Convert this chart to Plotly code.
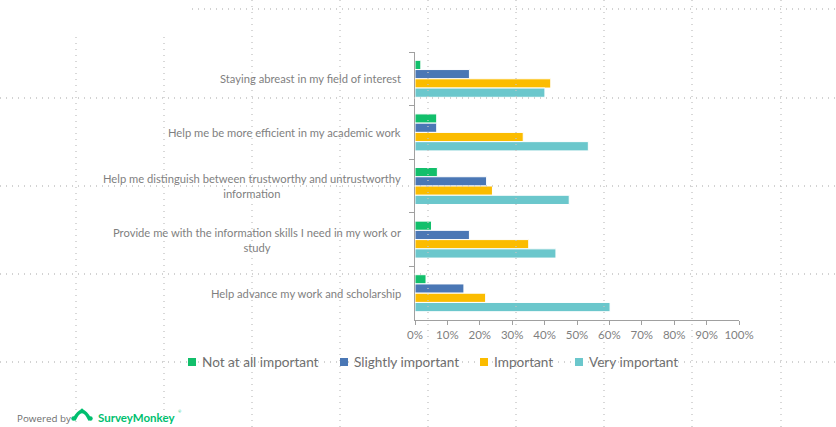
import plotly.graph_objects as go

categories = [
    "Staying abreast in my field of interest",
    "Help me be more efficient in my academic work",
    "Help me distinguish between trustworthy and untrustworthy<br>information",
    "Provide me with the information skills I need in my work or<br>study",
    "Help advance my work and scholarship",
]
series_names = ["Not at all important", "Slightly important", "Important", "Very important"]
not_at_all = [1.8, 6.7, 6.9, 5.1, 3.4]
slightly = [16.8, 6.7, 22.1, 16.8, 15.1]
important = [41.9, 33.4, 23.9, 35.1, 21.8]
very = [40.1, 53.5, 47.6, 43.5, 60.2]
x_ticks = list(range(0, 101, 10))

colors = ["#12bf6b", "#4a77b5", "#fbbc00", "#6bc7cc"]
values = [not_at_all, slightly, important, very]

W, H = 836, 427
ML, MR, MT, MB = 415, 97, 52, 107
PW, PH = W - ML - MR, H - MT - MB


def px2x(px):
    return (px - ML) / PW


def px2y(py):
    return (H - MB - py) / PH


FONT = "Lato"
GRAY = "#7f7f7f"

fig = go.Figure()
for name, vals, col in zip(series_names, values, colors):
    fig.add_trace(go.Bar(
        y=categories, x=vals, name=name, orientation="h",
        marker=dict(color=col, line=dict(color="white", width=1)),
        showlegend=False,
    ))

shapes = []
dot = dict(color="#c4c4c4", width=1.3, dash="1px,5px")
# background dotted grid (decorative)
for xv, y0 in [(76, 37), (164, 37), (252, 0), (340, 0), (428, 0), (516, 0), (604, 0), (692, 0), (781, 0)]:
    shapes.append(dict(type="line", xref="paper", yref="paper", x0=px2x(xv), x1=px2x(xv),
                       y0=px2y(y0), y1=px2y(H), line=dot, layer="above"))
for yv, x0 in [(9, 192), (98, 0), (186, 0), (274, 0), (362, 0)]:
    shapes.append(dict(type="line", xref="paper", yref="paper", x0=px2x(x0), x1=px2x(W),
                       y0=px2y(yv), y1=px2y(yv), line=dot, layer="above"))

annotations = []
for c in categories:
    annotations.append(dict(x=px2x(403), y=c, xref="paper", yref="y", text=c, showarrow=False,
                            xanchor="right", yanchor="middle", align="center",
                            font=dict(family=FONT, size=11.2, color=GRAY)))

# custom legend
leg_sq = [188, 340, 480, 575]
leg_tx = [200, 352, 492, 587]
for name, col, sx, tx in zip(series_names, colors, leg_sq, leg_tx):
    shapes.append(dict(type="rect", xref="paper", yref="paper", x0=px2x(sx), x1=px2x(sx + 8),
                       y0=px2y(366), y1=px2y(358), fillcolor=col, line=dict(width=0)))
    annotations.append(dict(x=px2x(tx), y=px2y(362), xref="paper", yref="paper", text=name,
                            showarrow=False, xanchor="left", yanchor="middle",
                            font=dict(family=FONT, size=13.6, color="#6f6f6f")))

# Powered by SurveyMonkey
annotations.append(dict(x=px2x(15), y=px2y(418), xref="paper", yref="paper", text="Powered by",
                        showarrow=False, xanchor="left", yanchor="middle",
                        font=dict(family="Open Sans", size=9.8, color="#6d6d6d")))
annotations.append(dict(x=px2x(96), y=px2y(417), xref="paper", yref="paper", text="<b>SurveyMonkey</b>",
                        showarrow=False, xanchor="left", yanchor="middle",
                        font=dict(family="Lato", size=11.5, color="#00bf6f")))
annotations.append(dict(x=px2x(176), y=px2y(412), xref="paper", yref="paper", text="®",
                        showarrow=False, xanchor="left", yanchor="middle",
                        font=dict(family="Lato", size=4, color="#00bf6f")))


def P(px, py):
    return f"{px2x(px):.5f},{px2y(py):.5f}"


logo_path = f"M {P(74, 420)} Q {P(82, 403)} {P(90, 420)}"
shapes.append(dict(type="path", xref="paper", yref="paper", path=logo_path,
                   line=dict(color="#00bf6f", width=3.5)))
for cx, cy, r in [(73.5, 418.5, 2.2), (90.5, 418.5, 2.2), (82, 410, 1.6)]:
    shapes.append(dict(type="circle", xref="paper", yref="paper", x0=px2x(cx - r), x1=px2x(cx + r),
                       y0=px2y(cy + r), y1=px2y(cy - r), fillcolor="#00bf6f", line=dict(width=0)))

fig.update_layout(
    width=W, height=H,
    margin=dict(l=ML, r=MR, t=MT, b=MB),
    barmode="group", bargap=0.31, bargroupgap=0,
    plot_bgcolor="white", paper_bgcolor="white",
    shapes=shapes, annotations=annotations,
    xaxis=dict(range=[0, 100], tickvals=x_ticks, ticktext=[f"{v}%" for v in x_ticks],
               ticks="outside", ticklen=4, tickcolor="#a0a0a0", showline=True, linecolor="#a0a0a0",
               linewidth=1, showgrid=False, zeroline=False,
               tickfont=dict(family=FONT, size=11.5, color=GRAY)),
    yaxis=dict(autorange="reversed", showticklabels=False, ticks="outside", ticklen=5,
               tickcolor="#a0a0a0", tickson="boundaries", showline=True, linecolor="#a0a0a0",
               linewidth=1, showgrid=False, zeroline=False),
)

fig.write_html("out.html")
